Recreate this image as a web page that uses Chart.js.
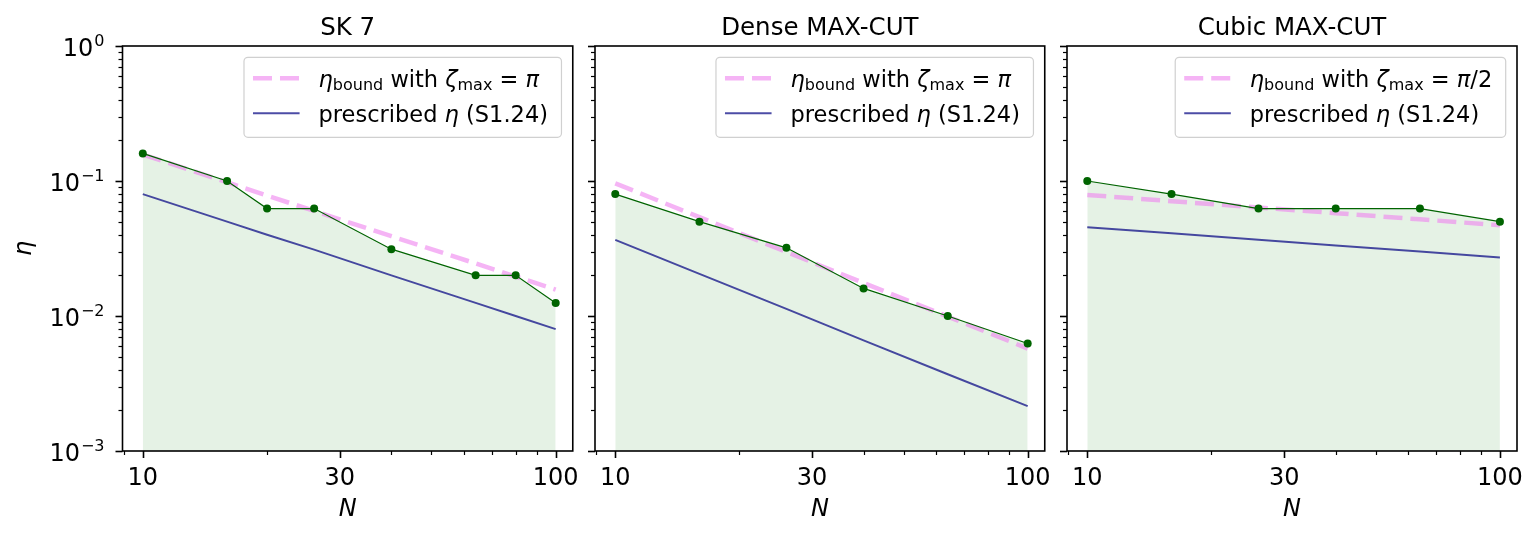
<!DOCTYPE html>
<html><head><meta charset="utf-8">
<script src="https://cdn.jsdelivr.net/npm/chart.js@4.4.1/dist/chart.umd.min.js"></script>
<style>
html,body{margin:0;padding:0;background:#fff;}
body{width:1540px;height:538px;position:relative;overflow:hidden;}
canvas{position:absolute;top:0;}
</style></head><body>
<canvas id="c1" style="left:0px" width="584" height="538"></canvas>
<canvas id="c2" style="left:584px" width="472" height="538"></canvas>
<canvas id="c3" style="left:1056px" width="484" height="538"></canvas>
<script>
// ---------- data ----------
const N_SK = [10, 16, 20, 26, 40, 64, 80, 100];
const eta_SK = [0.16, 0.1, 0.0625, 0.0625, 0.03125, 0.02, 0.02, 0.0125];
const bound_SK = [0.157, 0.098, 0.078, 0.060, 0.039, 0.0245, 0.0196, 0.0157];
const prescribed_SK = [0.08, 0.05, 0.04, 0.031, 0.02, 0.0125, 0.01, 0.008];

const N_dense = [10, 16, 26, 40, 64, 100];
const eta_dense = [0.08, 0.05, 0.032, 0.016, 0.01, 0.00625];
const bound_dense = [0.096, 0.054, 0.0298, 0.0176, 0.0099, 0.00574];
const prescribed_dense = [0.0366, 0.0205, 0.0113, 0.0066, 0.0037, 0.00215];

const N_cubic = [10, 16, 26, 40, 64, 100];
const eta_cubic = [0.1, 0.08, 0.0625, 0.0625, 0.0625, 0.05];
const bound_cubic = [0.0788, 0.0709, 0.0636, 0.0578, 0.052, 0.047];
const prescribed_cubic = [0.0455, 0.041, 0.0367, 0.0333, 0.030, 0.0271];

const titles = ['SK 7', 'Dense MAX-CUT', 'Cubic MAX-CUT'];
const zetaMax = ['π', 'π', 'π/2'];

const xMajorTicks = [10, 30, 100];
const xMinorTicks = [9, 20, 40, 50, 60, 70, 80, 90];
const yDecades = [0.001, 0.01, 0.1, 1];
const yExponents = ['−3', '−2', '−1', '0'];
const yMinorMult = [2, 3, 4, 5, 6, 7, 8, 9];
const xRange = [8.93, 110];
const yRange = [0.001, 1];

// ---------- helpers ----------
const FONT = "'DejaVu Sans'";
const LEG = 22.5, SUB = 16;

function pts(xs, ys) { return xs.map((x, i) => ({x: x, y: ys[i]})); }

function drawRich(ctx, segs, x, base, doDraw) {
  for (const s of segs) {
    ctx.font = (s.i ? 'italic ' : '') + (s.sz || LEG) + 'px ' + FONT;
    if (doDraw) ctx.fillText(s.t, x, base + (s.dy || 0));
    x += ctx.measureText(s.t).width;
  }
  return x;
}

const mplPlugin = {
  id: 'mpl',
  afterDraw(chart, args, o) {
    const ctx = chart.ctx, a = chart.chartArea, xs = chart.scales.x, ys = chart.scales.y;
    ctx.save();
    ctx.strokeStyle = '#000'; ctx.fillStyle = '#000';
    // tick marks
    xs.ticks.forEach(t => {
      const px = Math.round(xs.getPixelForValue(t.value)) + 0.5;
      ctx.lineWidth = t.major ? 1.6 : 1.2;
      ctx.beginPath(); ctx.moveTo(px, a.bottom); ctx.lineTo(px, a.bottom + (t.major ? 7 : 4)); ctx.stroke();
    });
    ys.ticks.forEach(t => {
      const py = Math.round(ys.getPixelForValue(t.value)) + 0.5;
      ctx.lineWidth = t.major ? 1.6 : 1.2;
      ctx.beginPath(); ctx.moveTo(a.left, py); ctx.lineTo(a.left - (t.major ? 7 : 4), py); ctx.stroke();
    });
    // spines
    ctx.lineWidth = 1.6;
    ctx.strokeRect(a.left, a.top, a.right - a.left, a.bottom - a.top);
    // y tick labels (10^n)
    if (o.yLabels) {
      yDecades.forEach((d, i) => {
        const py = ys.getPixelForValue(d);
        const right = a.left - 18;
        ctx.font = '16px ' + FONT; ctx.textAlign = 'right'; ctx.textBaseline = 'alphabetic';
        ctx.fillText(yExponents[i], right, py);
        const ew = ctx.measureText(yExponents[i]).width;
        ctx.font = '24px ' + FONT;
        ctx.fillText('10', right - ew - 1, py + 9.5);
      });
      // y axis title
      ctx.save();
      ctx.translate(31, (a.top + a.bottom) / 2);
      ctx.rotate(-Math.PI / 2);
      ctx.font = 'italic 24px ' + FONT; ctx.textAlign = 'center';
      ctx.fillText('η', 0, 0);
      ctx.restore();
    }
    const cx = (a.left + a.right) / 2;
    // title
    ctx.textAlign = 'center'; ctx.textBaseline = 'alphabetic';
    ctx.font = '24.5px ' + FONT;
    ctx.fillText(o.title, cx, 34.5);
    // x axis title
    ctx.font = 'italic 24px ' + FONT;
    ctx.fillText('N', cx, 516);
    // legend
    ctx.textAlign = 'left';
    const row1 = [{t: 'η', i: 1}, {t: 'bound', sz: SUB, dy: 3}, {t: ' with '}, {t: 'ζ', i: 1},
                  {t: 'max', sz: SUB, dy: 3}, {t: ' = '}, {t: o.zeta.charAt(0), i: 1}];
    if (o.zeta.length > 1) row1.push({t: o.zeta.slice(1)});
    const row2 = [{t: 'prescribed '}, {t: 'η', i: 1}, {t: ' (S1.24)'}];
    const w1 = drawRich(ctx, row1, 0, 0, false), w2 = drawRich(ctx, row2, 0, 0, false);
    const bw = 74.6 + Math.max(w1, w2) + 13.5, bh = 80;
    const bx = a.right - 11.3 - bw, by = a.top + 11.3;
    ctx.beginPath();
    ctx.roundRect(bx, by, bw, bh, 4);
    ctx.fillStyle = 'rgba(255,255,255,0.8)'; ctx.fill();
    ctx.strokeStyle = '#d0d0d0'; ctx.lineWidth = 1.2; ctx.stroke();
    // samples
    ctx.strokeStyle = 'rgba(238,130,238,0.6)'; ctx.lineWidth = 4.5; ctx.setLineDash([19, 8]);
    ctx.beginPath(); ctx.moveTo(bx + 9, by + 21); ctx.lineTo(bx + 55.6, by + 21); ctx.stroke();
    ctx.setLineDash([]);
    ctx.strokeStyle = 'rgba(0,0,128,0.7)'; ctx.lineWidth = 2;
    ctx.beginPath(); ctx.moveTo(bx + 9, by + 56); ctx.lineTo(bx + 55.6, by + 56); ctx.stroke();
    ctx.fillStyle = '#000';
    drawRich(ctx, row1, bx + 74.6, by + 29.5, true);
    drawRich(ctx, row2, bx + 74.6, by + 64.5, true);
    ctx.restore();
  }
};

function makeChart(id, N, eta, bound, presc, opt) {
  const yTicks = [];
  yDecades.forEach((d, i) => {
    yTicks.push({value: d, major: true});
    if (i < yDecades.length - 1) yMinorMult.forEach(m => yTicks.push({value: d * m, major: false}));
  });
  const xTicks = xMajorTicks.map(v => ({value: v, major: true}))
    .concat(xMinorTicks.map(v => ({value: v, major: false})))
    .sort((p, q) => p.value - q.value);
  return new Chart(document.getElementById(id), {
    type: 'scatter',
    data: {
      datasets: [
        {data: pts(N, eta), showLine: true, borderColor: '#006400', borderWidth: 1.2,
         pointRadius: 4, pointBackgroundColor: '#006400', pointBorderWidth: 0,
         fill: 'start', backgroundColor: 'rgba(0,128,0,0.1)'},
        {data: pts(N, bound), showLine: true, borderColor: 'rgba(238,130,238,0.6)', borderWidth: 4.5,
         borderDash: [19, 8], pointRadius: 0, fill: false},
        {data: pts(N, presc), showLine: true, borderColor: 'rgba(0,0,128,0.7)', borderWidth: 2,
         pointRadius: 0, fill: false}
      ]
    },
    options: {
      responsive: false, animation: false, devicePixelRatio: 1,
      layout: {padding: {left: 0, right: opt.padR, top: 46, bottom: 0}},
      plugins: {legend: {display: false}, tooltip: {enabled: false},
                filler: {drawTime: 'beforeDatasetsDraw'},
                mpl: {yLabels: opt.yLabels, title: opt.title, zeta: opt.zeta}},
      scales: {
        x: {type: 'logarithmic', min: xRange[0], max: xRange[1],
            afterBuildTicks: s => { s.ticks = xTicks.map(t => ({...t})); },
            afterFit: s => { s.height = 87; },
            ticks: {autoSkip: false, maxRotation: 0, minRotation: 0, padding: 5, color: '#000',
                    font: {family: 'DejaVu Sans', size: 24},
                    callback: v => xMajorTicks.includes(v) ? String(v) : ''},
            grid: {display: false}, border: {display: false}},
        y: {type: 'logarithmic', min: yRange[0], max: yRange[1],
            afterBuildTicks: s => { s.ticks = yTicks.map(t => ({...t})); },
            afterFit: s => { s.width = opt.yWidth; },
            ticks: {display: false},
            grid: {display: false}, border: {display: false}}
      }
    },
    plugins: [mplPlugin]
  });
}

makeChart('c1', N_SK, eta_SK, bound_SK, prescribed_SK, {yLabels: true, title: titles[0], zeta: zetaMax[0], yWidth: 122.5, padR: 11});
makeChart('c2', N_dense, eta_dense, bound_dense, prescribed_dense, {yLabels: false, title: titles[1], zeta: zetaMax[1], yWidth: 11, padR: 11});
makeChart('c3', N_cubic, eta_cubic, bound_cubic, prescribed_cubic, {yLabels: false, title: titles[2], zeta: zetaMax[2], yWidth: 11, padR: 23});
</script>
</body></html>
